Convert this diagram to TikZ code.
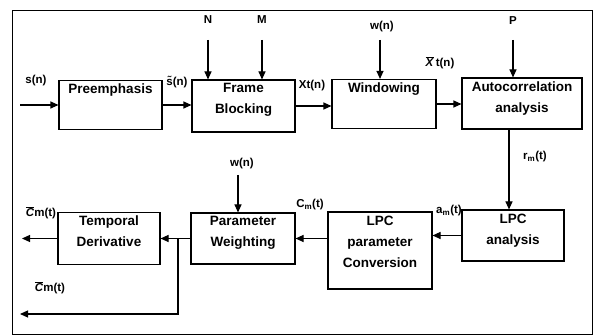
\documentclass[tikz,border=0pt]{standalone}
\usepackage{fontspec}
\setmainfont{Liberation Sans}
\usetikzlibrary{positioning,arrows.meta,calc}
\tikzset{
  blk/.style={draw, line width=1.1pt, inner sep=0pt},
  intxt/.style={anchor=north, align=center, inner sep=4pt, font=\bfseries\fontsize{13.5}{21}\selectfont},
  sig/.style={inner sep=1pt, font=\bfseries\fontsize{11.5}{13}\selectfont},
  fl/.style={-{Triangle[length=8pt,width=7pt]}, line width=1.1pt},
}
\newcommand{\barit}[1]{$\overline{\mbox{\textit{#1}}}$}

\begin{document}
\begin{tikzpicture}[x=1pt,y=-1pt]
\useasboundingbox (0,0) rectangle (594,336);
\draw[line width=0.9pt] (12,10) rectangle (592,334);
% upper row
\node[blk, minimum width=103pt, minimum height=49pt, label={[intxt]north:Preemphasis}] (pre) at (110.5,105) {};
\node[blk, minimum width=103pt, minimum height=52pt, label={[intxt]north:Frame\\Blocking}] (frame) at (243.5,106) {};
\node[blk, minimum width=104pt, minimum height=49pt, label={[intxt]north:Windowing}] (win) at (384,104) {};
\node[blk, minimum width=120pt, minimum height=51pt, label={[intxt]north:Autocorrelation\\analysis}] (auto) at (522,103.5) {};
% lower row
\node[blk, minimum width=102pt, minimum height=51pt, label={[intxt]north:LPC\\analysis}] (lpca) at (513,235.5) {};
\node[blk, minimum width=104pt, minimum height=77pt, label={[intxt]north:LPC\\parameter\\Conversion}] (conv) at (380,250.5) {};
\node[blk, minimum width=104pt, minimum height=51pt, label={[intxt]north:Parameter\\Weighting}] (weight) at (243,238.5) {};
\node[blk, minimum width=102pt, minimum height=52pt, label={[intxt]north:Temporal\\Derivative}] (temp) at (109,238.5) {};
% signal labels
\node[sig] (sn) at (36,81) {s(n)};
\node[sig] (stn) at (177,82) {\~{s}(n)};
\node[sig] (N) at (208,20) {N};
\node[sig] (M) at (262,20) {M};
\node[sig] (xt) at (312,86) {Xt(n)};
\node[sig] (wn) at (382,27) {w(n)};
\node[sig] (xbar) at (440,63) {\barit{X}\,t(n)};
\node[sig] (P) at (513,21) {P};
\node[sig] (rm) at (535,157) {r\textsubscript{m}(t)};
\node[sig] (am) at (449,211) {a\textsubscript{m}(t)};
\node[sig] (cm) at (310,205) {C\textsubscript{m}(t)};
\node[sig] (wn2) at (242,164) {w(n)};
\node[sig] (cbar) at (41,213) {\barit{C}m(t)};
\node[sig] (cbar2) at (50,288) {\barit{C}m(t)};
% free ends
\coordinate (sin) at (20,105);
\coordinate (nN) at (208,40);
\coordinate (nM) at (262,40);
\coordinate (nw) at (380,40);
\coordinate (nP) at (513,40);
\coordinate (nw2) at (238,175);
\coordinate (br) at (178,238.5);
\coordinate (out1) at (22,238.5);
\coordinate (out2) at (20,314);
% connectors
\draw[fl] (sin) -- (pre.west);
\draw[fl] (pre.east) -- (pre.east -| frame.west);
\draw[fl] (nN) -- (nN |- frame.north);
\draw[fl] (nM) -- (nM |- frame.north);
\draw[fl] (frame.east) -- (frame.east -| win.west);
\draw[fl] (nw) -- (nw |- win.north);
\draw[fl] (win.east) -- (win.east -| auto.west);
\draw[fl] (nP) -- (nP |- auto.north);
\draw[fl] ([xshift=-4pt]auto.south -| lpca.north) -- ([xshift=-4pt]lpca.north);
\draw[fl] (lpca.west) -- (lpca.west -| conv.east);
\draw[fl] (conv.west |- weight.east) -- (weight.east);
\draw[fl] (nw2) -- (nw2 |- weight.north);
\draw[fl] (weight.west) -- (temp.east);
\draw[fl] (temp.west) -- (out1);
\draw[fl] (br) |- (out2);
\end{tikzpicture}
\end{document}
